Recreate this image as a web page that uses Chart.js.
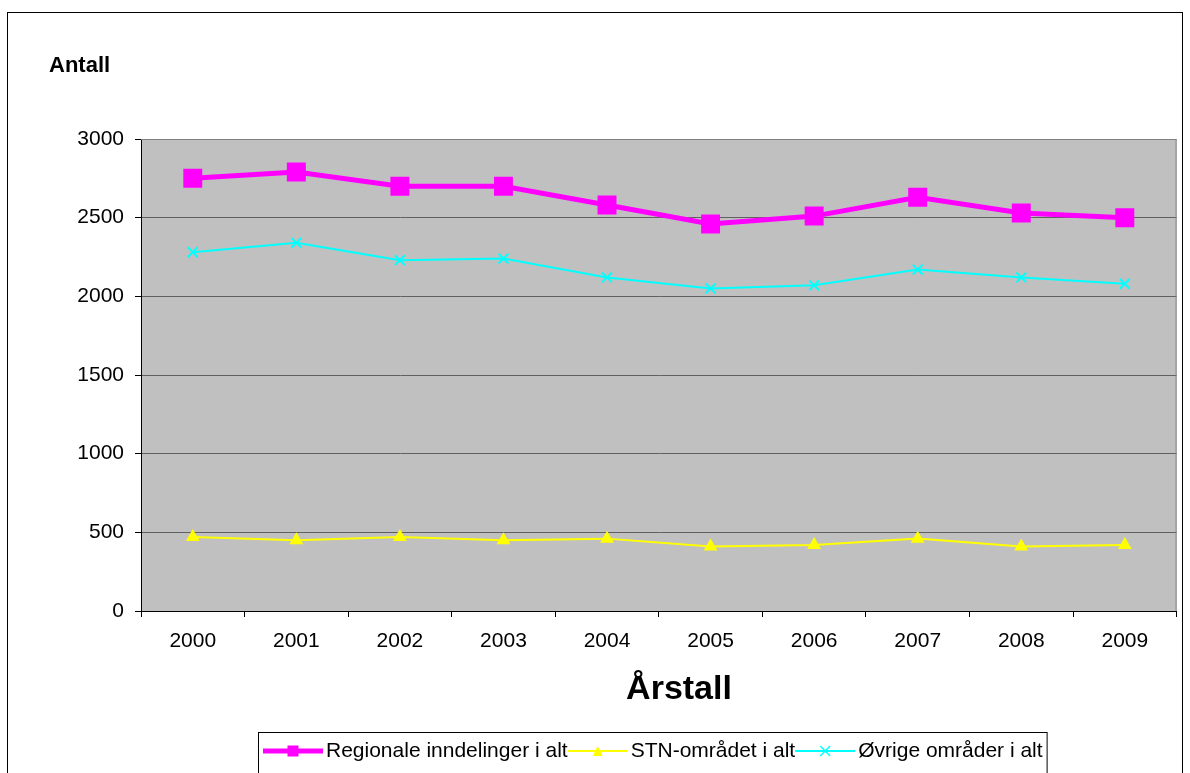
<!DOCTYPE html>
<html>
<head>
<meta charset="utf-8">
<script src="https://cdn.jsdelivr.net/npm/chart.js@4.4.1/dist/chart.umd.min.js"></script>
<style>
  html, body { margin: 0; padding: 0; background: #fff; }
  #wrap { width: 1190px; height: 773px; }
</style>
</head>
<body>
<div id="wrap"><canvas id="c" width="1190" height="773"></canvas></div>
<script>
'use strict';

const years = ['2000', '2001', '2002', '2003', '2004', '2005', '2006', '2007', '2008', '2009'];
const regionale = [2750, 2790, 2700, 2700, 2580, 2460, 2510, 2630, 2530, 2500];
const stn = [470, 450, 470, 450, 460, 410, 420, 460, 410, 420];
const ovrige = [2280, 2340, 2230, 2240, 2120, 2050, 2070, 2170, 2120, 2080];
const yTicks = [0, 500, 1000, 1500, 2000, 2500, 3000];

const FONT = 'Arial, "Liberation Sans", sans-serif';

const frame = {
    id: 'frame',
    beforeDraw(chart) {
        const ctx = chart.ctx;
        const a = chart.chartArea;
        ctx.save();
        ctx.fillStyle = '#fff';
        ctx.fillRect(0, 0, chart.width, chart.height);
        ctx.fillStyle = '#c0c0c0';
        ctx.fillRect(a.left, a.top, a.right - a.left, a.bottom - a.top);
        ctx.restore();
    },
    afterDraw(chart) {
        const ctx = chart.ctx;
        const a = chart.chartArea;
        ctx.save();
        // plot area border (top & right)
        ctx.strokeStyle = '#808080';
        ctx.lineWidth = 1;
        ctx.beginPath();
        ctx.moveTo(a.left, a.top + 0.5);
        ctx.lineTo(a.right - 0.5, a.top + 0.5);
        ctx.lineTo(a.right - 0.5, a.bottom);
        ctx.stroke();

        // outer border
        ctx.strokeStyle = '#000';
        ctx.strokeRect(7.5, 12.5, 1175, 800);

        // titles
        ctx.fillStyle = '#000';
        ctx.textBaseline = 'middle';
        ctx.textAlign = 'left';
        ctx.font = 'bold 22px ' + FONT;
        ctx.fillText('Antall', 49, 66);
        ctx.textAlign = 'center';
        ctx.font = 'bold 34px ' + FONT;
        ctx.fillText('Årstall', 679, 690);

        // legend
        drawLegend(chart);
        ctx.restore();
    }
};

function drawMarker(ctx, style, x, y, size, color) {
    ctx.save();
    ctx.fillStyle = color;
    ctx.strokeStyle = color;
    if (style === 'rect') {
        ctx.fillRect(x - size / 2, y - size / 2, size, size);
    } else if (style === 'triangle') {
        ctx.beginPath();
        ctx.moveTo(x, y - size / 2);
        ctx.lineTo(x + size / 2, y + size / 2);
        ctx.lineTo(x - size / 2, y + size / 2);
        ctx.closePath();
        ctx.fill();
    } else {
        ctx.lineWidth = 1.5;
        ctx.beginPath();
        ctx.moveTo(x - size / 2, y - size / 2);
        ctx.lineTo(x + size / 2, y + size / 2);
        ctx.moveTo(x + size / 2, y - size / 2);
        ctx.lineTo(x - size / 2, y + size / 2);
        ctx.stroke();
    }
    ctx.restore();
}

function drawLegend(chart) {
    const ctx = chart.ctx;
    const sample = 60;
    const gap = 3;
    ctx.font = '21px ' + FONT;
    const items = chart.data.datasets.map(ds => ({ ds, w: ctx.measureText(ds.label).width }));
    let total = 0;
    items.forEach(it => { total += sample + gap + it.w; });
    const boxLeft = 258;
    const boxTop = 732;
    const boxW = total + 9;
    ctx.fillStyle = '#fff';
    ctx.fillRect(boxLeft, boxTop, boxW, 60);
    ctx.strokeStyle = '#000';
    ctx.lineWidth = 1;
    ctx.strokeRect(boxLeft + 0.5, boxTop + 0.5, boxW, 60);
    let x = boxLeft + 5;
    const y = 751;
    items.forEach(it => {
        const ds = it.ds;
        ctx.strokeStyle = ds.borderColor;
        ctx.lineWidth = Math.min(ds.borderWidth, 5);
        ctx.beginPath();
        ctx.moveTo(x, y);
        ctx.lineTo(x + sample, y);
        ctx.stroke();
        const size = ds.pointStyle === 'rect' ? 11 : 10;
        drawMarker(ctx, ds.pointStyle, x + sample / 2, y, size, ds.borderColor);
        ctx.fillStyle = '#000';
        ctx.textAlign = 'left';
        ctx.textBaseline = 'middle';
        ctx.fillText(ds.label, x + sample + gap, y);
        x += sample + gap + it.w;
    });
}

new Chart(document.getElementById('c'), {
    type: 'line',
    data: {
        labels: years,
        datasets: [{
            label: 'Regionale inndelinger i alt',
            data: regionale,
            borderColor: '#ff00ff',
            backgroundColor: '#ff00ff',
            borderWidth: 5,
            pointStyle: 'rect',
            pointRadius: 13.4,
            pointBorderWidth: 0,
            tension: 0
        }, {
            label: 'STN-området i alt',
            data: stn,
            borderColor: '#ffff00',
            backgroundColor: '#ffff00',
            borderWidth: 2,
            pointStyle: 'triangle',
            pointRadius: 8,
            pointBorderWidth: 0,
            tension: 0
        }, {
            label: 'Øvrige områder i alt',
            data: ovrige,
            borderColor: '#00ffff',
            backgroundColor: '#00ffff',
            borderWidth: 2,
            pointStyle: 'crossRot',
            pointRadius: 7,
            pointBorderWidth: 2,
            tension: 0
        }]
    },
    options: {
        responsive: false,
        animation: false,
        layout: { padding: { left: 0, top: 139, right: 13, bottom: 0 } },
        plugins: {
            legend: { display: false },
            title: { display: false },
            tooltip: { enabled: false }
        },
        scales: {
            x: {
                type: 'category',
                offset: true,
                grid: {
                    offset: true,
                    drawOnChartArea: false,
                    drawTicks: true,
                    tickLength: 6,
                    color: '#000'
                },
                border: { color: '#000', width: 1 },
                ticks: {
                    color: '#000',
                    font: { family: FONT, size: 21 },
                    padding: 12,
                    maxRotation: 0
                },
                afterFit(scale) { scale.height = 162; }
            },
            y: {
                min: 0,
                max: 3000,
                afterBuildTicks(scale) { scale.ticks = yTicks.map(v => ({ value: v })); },
                grid: {
                    color: '#606060',
                    lineWidth: 1,
                    tickLength: 6,
                    tickColor: '#000'
                },
                border: { color: '#000', width: 1 },
                ticks: {
                    color: '#000',
                    font: { family: FONT, size: 21 },
                    padding: 11,
                    callback: v => String(v)
                },
                afterFit(scale) { scale.width = 141; }
            }
        }
    },
    plugins: [frame]
});
</script>
</body>
</html>
